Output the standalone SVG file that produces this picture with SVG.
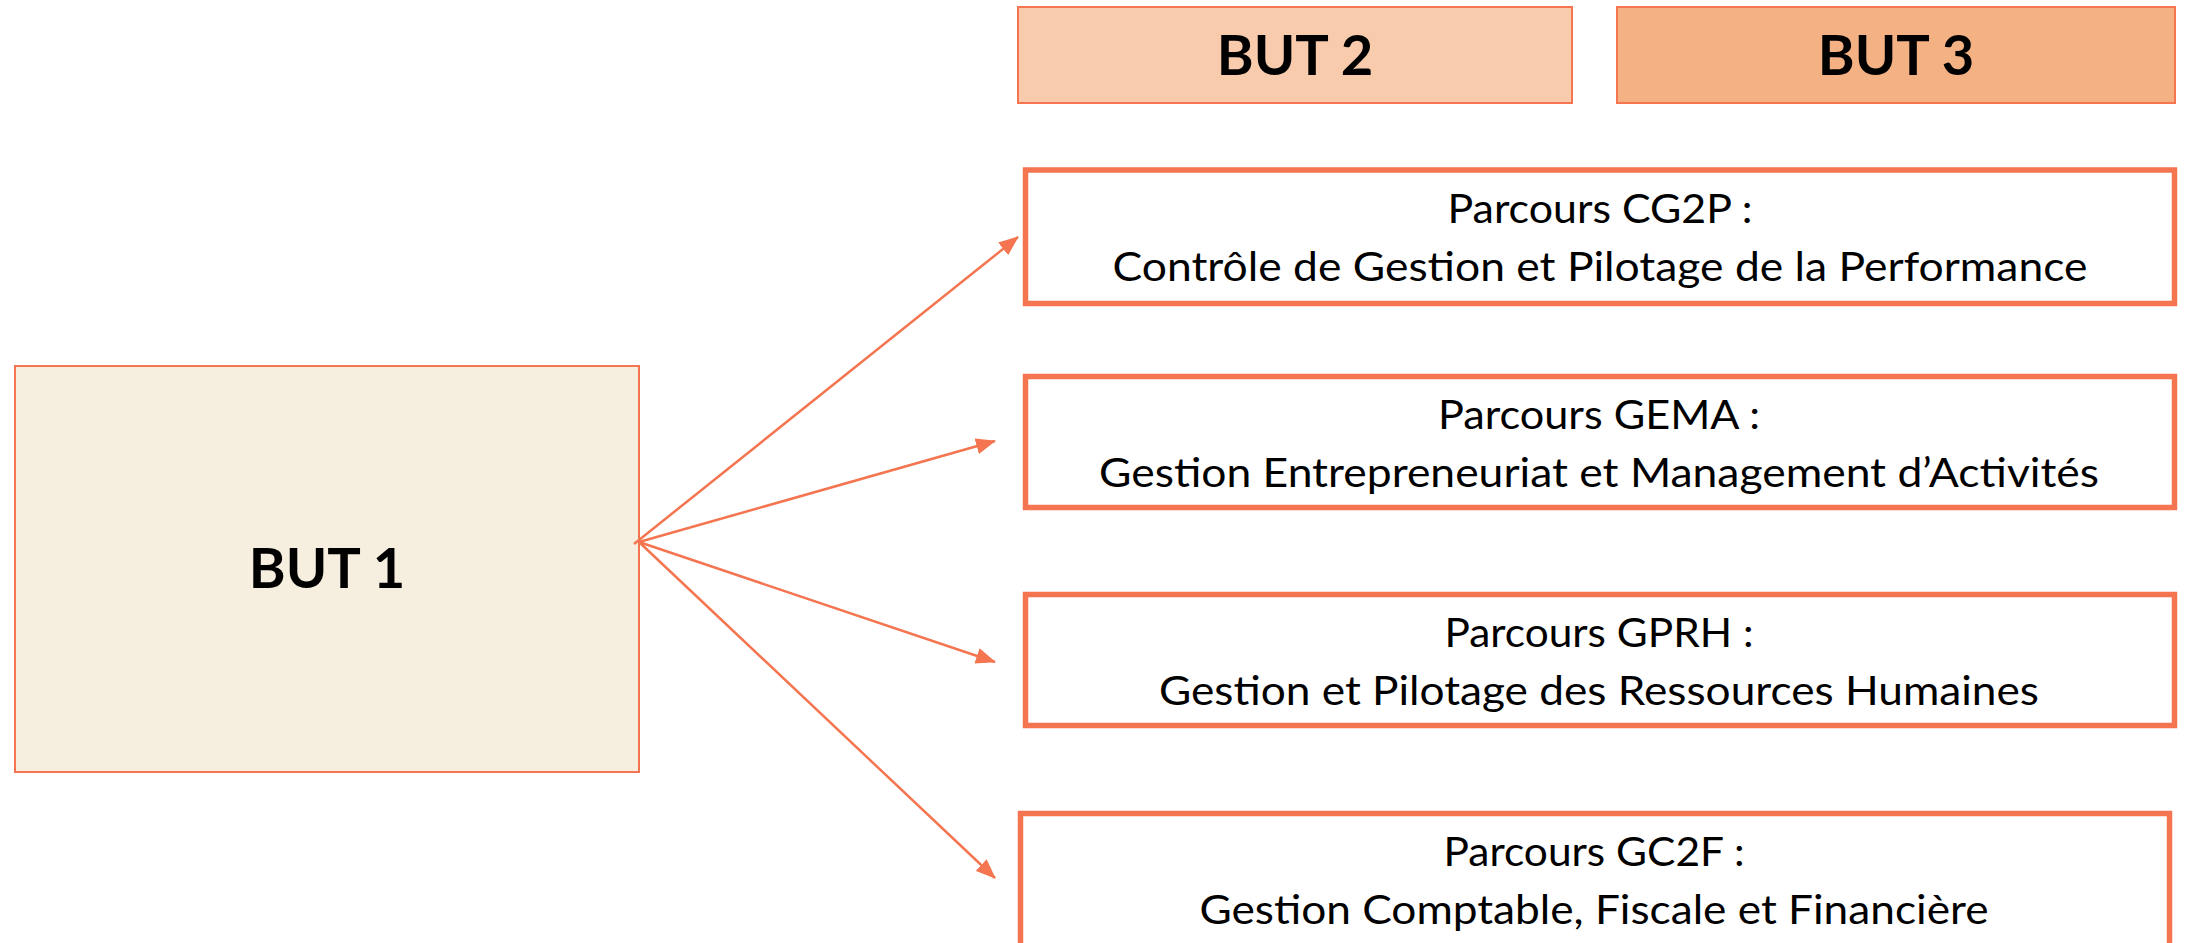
<svg xmlns="http://www.w3.org/2000/svg" width="2187" height="943" viewBox="0 0 2187 943">
<style>
.hdr{stroke:#F4754F;stroke-width:2}
.path{fill:#FFFFFF;stroke:#F4754F;stroke-width:5.5}
.big{font-family:Lato,"Liberation Sans",sans-serif;font-weight:bold;font-size:56px;fill:#000;text-anchor:middle}
.body{font-family:Lato,"Liberation Sans",sans-serif;font-size:41px;fill:#000;text-anchor:middle}
.conn{stroke:#F4754F;stroke-width:2.5;fill:none;marker-end:url(#ah)}
</style>
<defs>
<marker id="ah" markerUnits="userSpaceOnUse" markerWidth="20" markerHeight="16" viewBox="0 0 20 16" refX="19" refY="8" orient="auto">
<path d="M0,0 L20,8 L0,16 Z" fill="#F4754F"/>
</marker>
</defs>
<rect width="2187" height="943" fill="#FFFFFF"/>
<g id="but2">
<rect class="hdr" x="1018" y="7" width="554" height="96" fill="#F8CBAD"/>
<text class="big" x="1295" y="75">BUT 2</text>
</g>
<g id="but3">
<rect class="hdr" x="1617" y="7" width="558" height="96" fill="#F4B183"/>
<text class="big" x="1896" y="75">BUT 3</text>
</g>
<g id="but1">
<rect class="hdr" x="15" y="366" width="624" height="406" fill="#F6EFDF"/>
<text class="big" x="327" y="588">BUT 1</text>
</g>
<g id="cg2p">
<rect class="path" x="1025.5" y="170" width="1149" height="133.5"/>
<text class="body" x="1600" y="223" textLength="305" lengthAdjust="spacingAndGlyphs">Parcours CG2P :</text>
<text class="body" x="1600" y="281" textLength="975" lengthAdjust="spacingAndGlyphs">Contrôle de Gestion et Pilotage de la Performance</text>
</g>
<g id="gema">
<rect class="path" x="1025.5" y="376.5" width="1149" height="131"/>
<text class="body" x="1599" y="429" textLength="322" lengthAdjust="spacingAndGlyphs">Parcours GEMA :</text>
<text class="body" x="1599" y="487" textLength="1000" lengthAdjust="spacingAndGlyphs">Gestion Entrepreneuriat et Management d’Activités</text>
</g>
<g id="gprh">
<rect class="path" x="1025.5" y="594.5" width="1149" height="131"/>
<text class="body" x="1599" y="647" textLength="309" lengthAdjust="spacingAndGlyphs">Parcours GPRH :</text>
<text class="body" x="1599" y="705" textLength="880" lengthAdjust="spacingAndGlyphs">Gestion et Pilotage des Ressources Humaines</text>
</g>
<g id="gc2f">
<rect class="path" x="1020.5" y="813.5" width="1149" height="150"/>
<text class="body" x="1594" y="866" textLength="301" lengthAdjust="spacingAndGlyphs">Parcours GC2F :</text>
<text class="body" x="1594" y="924" textLength="789" lengthAdjust="spacingAndGlyphs">Gestion Comptable, Fiscale et Financière</text>
</g>
<g id="connectors">
<line class="conn" x1="634" y1="544" x2="1018" y2="237"/>
<line class="conn" x1="639" y1="542" x2="995" y2="441"/>
<line class="conn" x1="639" y1="542" x2="995" y2="662"/>
<line class="conn" x1="639" y1="542" x2="995" y2="878"/>
</g>
</svg>
